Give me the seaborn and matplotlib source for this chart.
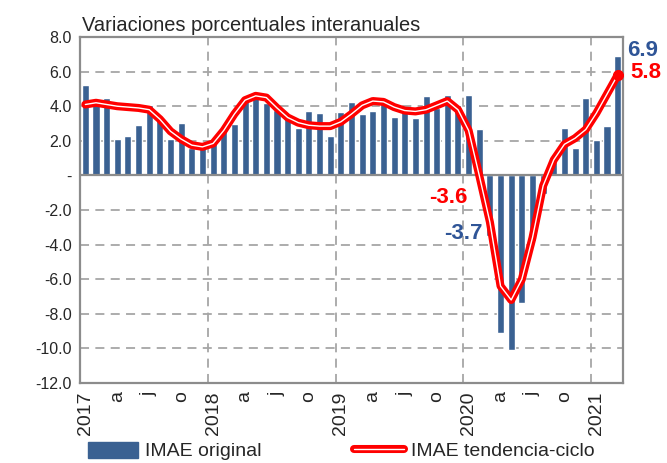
import numpy as np
import pandas as pd
import seaborn as sns
import matplotlib.pyplot as plt
from matplotlib.patches import Patch
from matplotlib.lines import Line2D
from matplotlib.ticker import FixedLocator

# monthly data, Jan 2017 - Mar 2021
imae_original = [5.2, 4.4, 4.5, 2.1, 2.3, 2.9, 4.1, 3.3, 2.1, 3.05, 1.6, 1.7,
                 2.0, 2.8, 3.0, 4.35, 4.55, 4.2, 3.8, 3.35, 2.75, 3.7, 3.6, 2.3,
                 3.65, 4.25, 3.55, 3.75, 4.2, 3.35, 3.75, 3.3, 4.6, 3.9, 4.65, 4.05,
                 4.65, 2.7, -3.5, -9.1, -10.1, -7.4, -3.8, -1.1, 0.8, 2.75, 1.6, 4.5,
                 2.05, 2.85, 6.9]
imae_tendencia = [4.1, 4.2, 4.1, 4.0, 3.95, 3.9, 3.8, 3.25, 2.55, 2.1, 1.75, 1.65,
                  1.85, 2.6, 3.55, 4.35, 4.6, 4.5, 3.9, 3.35, 3.05, 2.9, 2.85, 2.85,
                  3.1, 3.55, 4.05, 4.3, 4.25, 3.95, 3.75, 3.7, 3.8, 4.05, 4.3, 3.8,
                  2.6, 0.0, -2.7, -6.4, -7.2, -6.0, -3.6, -0.6, 0.9, 1.8, 2.15, 2.65,
                  3.6, 4.7, 5.8]
tick_labels = ["2017", "a", "j", "o", "2018", "a", "j", "o", "2019", "a", "j", "o",
               "2020", "a", "j", "o", "2021"]
y_ticks = [8, 6, 4, 2, 0, -2, -4, -6, -8, -10, -12]

df = pd.DataFrame({"mes": np.arange(len(imae_original)),
                   "original": imae_original,
                   "tendencia": imae_tendencia})

sns.set_style("white")
plt.rcParams["font.family"] = ["Liberation Sans", "DejaVu Sans"]

blue = "#3A6192"
dark_blue = "#2F5597"
red = "#FF0000"
grid_col = "#A6A6A6"
axis_col = "#8C8C8C"

fig = plt.figure(figsize=(6.67, 4.63), dpi=100)
ax = fig.add_axes([0.12, 0.1728, 0.814, 0.7472])

sns.barplot(data=df, x="mes", y="original", color=blue, width=0.66,
            saturation=1, ax=ax, zorder=2)
sns.lineplot(x=df["mes"], y=df["tendencia"], color=red, lw=5.8, ax=ax, zorder=3,
             solid_capstyle="round", solid_joinstyle="round")
sns.lineplot(x=df["mes"], y=df["tendencia"], color="white", lw=1.0, ax=ax, zorder=4)
ax.plot(df["mes"].iloc[-1], df["tendencia"].iloc[-1], "o", color=red, ms=7, zorder=5)

ax.set_xlim(-0.5, len(df) - 0.5)
ax.set_ylim(-12, 8)
ax.set_xlabel("")
ax.set_ylabel("")

# y axis
ax.set_yticks(y_ticks)
ax.set_yticklabels(["-" if v == 0 else f"{v:.1f}" for v in y_ticks], fontsize=11.5)
ax.yaxis.grid(True, color=grid_col, lw=1.3, ls=(0, (5, 3.5)), zorder=0)
ax.axhline(0, color=axis_col, lw=1.6, zorder=2.5)

# x axis: labels every quarter, gridlines at year changes
ax.set_xticks(np.arange(0, len(df), 3))
ax.set_xticklabels(tick_labels, rotation=90, fontsize=14)
ax.xaxis.set_minor_locator(FixedLocator([11.5, 23.5, 35.5, 47.5]))
ax.xaxis.grid(True, which="minor", color=grid_col, lw=1.3, ls=(0, (5, 3.5)), zorder=0)
ax.xaxis.grid(False, which="major")
ax.tick_params(axis="x", which="major", length=0, pad=6)
ax.tick_params(axis="x", which="minor", length=6, direction="in", color=axis_col, width=1.3)
ax.tick_params(axis="y", length=0, pad=6)

for s in ax.spines.values():
    s.set_color(axis_col)
    s.set_linewidth(1.6)
    s.set_visible(True)

ax.set_title("Variaciones porcentuales interanuales", loc="left", fontsize=14.4, pad=4,
             x=0.003)

# labels
ax.text(50.9, 7.2, "6.9", color=dark_blue, fontsize=16, fontweight="bold",
        va="center", ha="left", clip_on=False)
ax.text(51.2, 5.95, "5.8", color=red, fontsize=16, fontweight="bold",
        va="center", ha="left", clip_on=False)
ax.text(32.3, -1.25, "-3.6", color=red, fontsize=16, fontweight="bold",
        va="center", ha="left", zorder=6)
ax.text(33.7, -3.35, "-3.7", color=dark_blue, fontsize=16, fontweight="bold",
        va="center", ha="left", zorder=6)

handles = [Patch(facecolor=blue, edgecolor=blue),
           (Line2D([], [], color=red, lw=5.8, solid_capstyle="round"),
            Line2D([], [], color="white", lw=1.0))]
fig.legend(handles, ["IMAE original", "IMAE tendencia-ciclo"], ncol=2,
           loc="lower left", bbox_to_anchor=(0.106, -0.032), frameon=False,
           fontsize=14, handlelength=2.58, handleheight=0.9, handletextpad=0.35,
           columnspacing=4.75)

fig.savefig("out.png", dpi=100)
